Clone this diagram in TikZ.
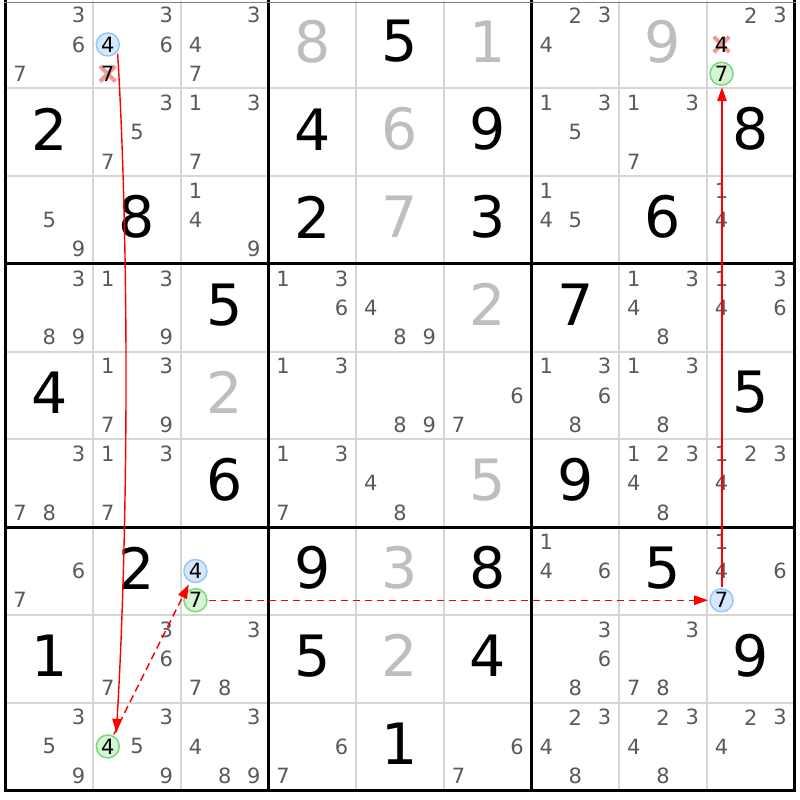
\documentclass[tikz,border=0pt]{standalone}
\usepackage{fontspec}
\setmainfont{DejaVu Sans}
\usetikzlibrary{arrows.meta}
\definecolor{candgray}{RGB}{90,90,90}
\definecolor{solvedgray}{RGB}{190,190,190}
\definecolor{thingrid}{RGB}{214,214,214}
\definecolor{bluefill}{RGB}{214,233,252}
\definecolor{blueline}{RGB}{150,200,245}
\definecolor{greenfill}{RGB}{212,244,212}
\definecolor{greenline}{RGB}{125,215,125}
\definecolor{crosscol}{RGB}{242,150,150}
\definecolor{chainred}{RGB}{255,0,0}
\newcommand\cpos[3]{({5.5+87.68*(#2-1+(mod(#3-1,3)+0.5)/3)},{0.6+87.75*(#1-1+(floor((#3-1)/3)+0.5)/3)})}
\newcommand\cands[3]{\foreach \d in {#3}{\node[cand] (k#1#2\d) at \cpos{#1}{#2}{\d} {\d};}}
\newcommand\given[4]{\node[big,#4] (g#1#2) at ({5.5+87.68*(#2-0.5)},{0.6+87.75*(#1-0.5)-3}) {#3};}
\newcommand\crossat[4]{\node[crossbox] (#4) at \cpos{#1}{#2}{#3} {};
  \draw[crossmark] (#4.north west) -- (#4.south east) (#4.north east) -- (#4.south west);
  \node[candsel] (t#4) at \cpos{#1}{#2}{#3} {#3};}
\tikzset{
  cand/.style={inner sep=0pt, text=candgray, font=\fontsize{21pt}{21pt}\selectfont},
  candsel/.style={inner sep=0pt, text=black, font=\fontsize{21pt}{21pt}\selectfont},
  big/.style={inner sep=0pt, font=\fontsize{57pt}{57pt}\selectfont},
  blackdigit/.style={text=black},
  graydigit/.style={text=solvedgray},
  thinline/.style={thingrid, line width=2pt},
  thickline/.style={black, line width=3pt},
  crossbox/.style={inner sep=0pt, minimum size=15pt},
  crossmark/.style={crosscol, line width=4pt},
  circ/.style={circle, inner sep=0pt, minimum size=23pt, line width=1.5pt, outer sep=2pt, text=black, font=\fontsize{21pt}{21pt}\selectfont},
  bluecirc/.style={circ, draw=blueline, fill=bluefill},
  greencirc/.style={circ, draw=greenline, fill=greenfill},
  strong/.style={draw=chainred, line width=1.4pt, -{Triangle[length=14pt,width=9.5pt]}},
  weak/.style={strong, dash pattern=on 7.5pt off 4.5pt},
}
\begin{document}
\begin{tikzpicture}[x=1pt,y=-1pt]
\useasboundingbox (0,0) rectangle (800,800);
\fill[white] (0,0) rectangle (800,800);
% thin grid
\foreach \i in {1,2,4,5,7,8}{
  \draw[thinline] ({5.5+87.68*\i},0.6) -- ({5.5+87.68*\i},790.35);
  \draw[thinline] (5.5,{0.6+87.75*\i}) -- (794.6,{0.6+87.75*\i});
}
% thick grid
\foreach \i in {0,3,6,9}{
  \draw[thickline] ({5.5+87.68*\i},0) -- ({5.5+87.68*\i},791.8);
}
\foreach \i in {3,6,9}{
  \draw[thickline] (4,{0.6+87.75*\i}) -- (796.1,{0.6+87.75*\i});
}
\draw[gray, line width=1pt] (4,2.5) -- (796.1,2.5);
% row 1
\cands{1}{1}{3,6,7}
\cands{1}{2}{3,6}
\crossat{1}{2}{7}{x127}
\node[bluecirc] (A) at \cpos{1}{2}{4} {4};
\cands{1}{3}{3,4,7}
\given{1}{4}{8}{graydigit}
\given{1}{5}{5}{blackdigit}
\given{1}{6}{1}{graydigit}
\cands{1}{7}{2,3,4}
\given{1}{8}{9}{graydigit}
\cands{1}{9}{2,3}
\crossat{1}{9}{4}{x194}
\node[greencirc] (E) at \cpos{1}{9}{7} {7};
% row 2
\given{2}{1}{2}{blackdigit}
\cands{2}{2}{3,5,7}
\cands{2}{3}{1,3,7}
\given{2}{4}{4}{blackdigit}
\given{2}{5}{6}{graydigit}
\given{2}{6}{9}{blackdigit}
\cands{2}{7}{1,3,5}
\cands{2}{8}{1,3,7}
\given{2}{9}{8}{blackdigit}
% row 3
\cands{3}{1}{5,9}
\given{3}{2}{8}{blackdigit}
\cands{3}{3}{1,4,9}
\given{3}{4}{2}{blackdigit}
\given{3}{5}{7}{graydigit}
\given{3}{6}{3}{blackdigit}
\cands{3}{7}{1,4,5}
\given{3}{8}{6}{blackdigit}
\cands{3}{9}{1,4}
% row 4
\cands{4}{1}{3,8,9}
\cands{4}{2}{1,3,9}
\given{4}{3}{5}{blackdigit}
\cands{4}{4}{1,3,6}
\cands{4}{5}{4,8,9}
\given{4}{6}{2}{graydigit}
\given{4}{7}{7}{blackdigit}
\cands{4}{8}{1,3,4,8}
\cands{4}{9}{1,3,4,6}
% row 5
\given{5}{1}{4}{blackdigit}
\cands{5}{2}{1,3,7,9}
\given{5}{3}{2}{graydigit}
\cands{5}{4}{1,3}
\cands{5}{5}{8,9}
\cands{5}{6}{6,7}
\cands{5}{7}{1,3,6,8}
\cands{5}{8}{1,3,8}
\given{5}{9}{5}{blackdigit}
% row 6
\cands{6}{1}{3,7,8}
\cands{6}{2}{1,3,7}
\given{6}{3}{6}{blackdigit}
\cands{6}{4}{1,3,7}
\cands{6}{5}{4,8}
\given{6}{6}{5}{graydigit}
\given{6}{7}{9}{blackdigit}
\cands{6}{8}{1,2,3,4,8}
\cands{6}{9}{1,2,3,4}
% row 7
\cands{7}{1}{6,7}
\given{7}{2}{2}{blackdigit}
\node[bluecirc] (F) at \cpos{7}{3}{4} {4};
\node[greencirc] (C) at \cpos{7}{3}{7} {7};
\given{7}{4}{9}{blackdigit}
\given{7}{5}{3}{graydigit}
\given{7}{6}{8}{blackdigit}
\cands{7}{7}{1,4,6}
\given{7}{8}{5}{blackdigit}
\cands{7}{9}{1,4,6}
\node[bluecirc] (D) at \cpos{7}{9}{7} {7};
% row 8
\given{8}{1}{1}{blackdigit}
\cands{8}{2}{3,6,7}
\cands{8}{3}{3,7,8}
\given{8}{4}{5}{blackdigit}
\given{8}{5}{2}{graydigit}
\given{8}{6}{4}{blackdigit}
\cands{8}{7}{3,6,8}
\cands{8}{8}{3,7,8}
\given{8}{9}{9}{blackdigit}
% row 9
\cands{9}{1}{3,5,9}
\cands{9}{2}{3,5,9}
\node[greencirc] (B) at \cpos{9}{2}{4} {4};
\cands{9}{3}{3,4,8,9}
\cands{9}{4}{6,7}
\given{9}{5}{1}{blackdigit}
\cands{9}{6}{6,7}
\cands{9}{7}{2,3,4,8}
\cands{9}{8}{2,3,4,8}
\cands{9}{9}{2,3,4}
% chain
\draw[strong, shorten >=3pt] (A.-43) .. controls +(12,200) and +(12,-200) .. (B.52);
\draw[weak, shorten >=1.5pt] (B) -- (F);
\draw[weak] (C) -- (D);
\draw[strong] ([xshift=0.4pt]D.north) -- ([xshift=0.4pt]E.south);
\end{tikzpicture}
\end{document}
